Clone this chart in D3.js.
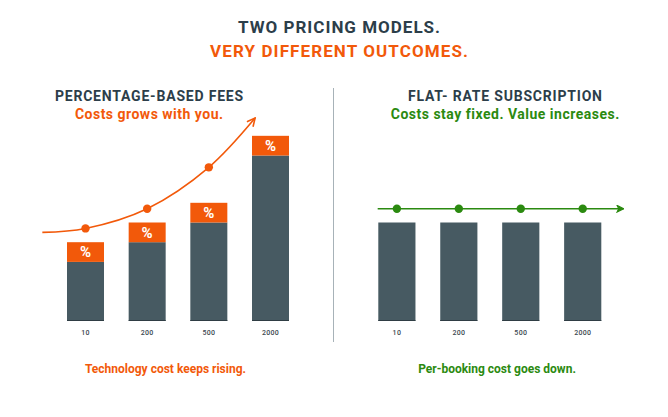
<!DOCTYPE html>
<html>
<head>
<meta charset="utf-8">
<script src="https://cdn.jsdelivr.net/npm/d3@7"></script>
<style>
  body { margin: 0; background: #fff; }
  svg text { font-family: Roboto, "Noto Sans", sans-serif; }
</style>
</head>
<body>
<div id="chart"></div>
<script>
/* CONSTANTS AND GLOBALS */
const width = 668,
  height = 417;

// booking volumes (x categories)
const categories = ["10", "200", "500", "2000"];

// left panel: platform cost + percentage fee on top
const pctBase = [30, 40, 50, 84];
const pctFee = [10, 10, 10, 10];
// trend curve through the fee tops (index along the bars, value)
const pctCurve = [
  { i: -0.7, v: 45 },
  { i: 0, v: 47 },
  { i: 1, v: 57 },
  { i: 2, v: 78 },
  { i: 2.75, v: 103 }
];
const pctDots = [0, 1, 2];

// right panel: flat subscription
const flatBase = [50, 50, 50, 50];
const flatLine = [
  { i: -0.31, v: 57 },
  { i: 3.66, v: 57 }
];
const flatDots = [0, 1, 2, 3];

const colors = {
  dark: "#2c3e4a",
  bar: "#475a62",
  orange: "#f2590a",
  green: "#2b8a10",
  tick: "#3b4850",
  divider: "#a7b2b8"
};

const svg = d3.select("#chart")
  .append("svg")
  .attr("width", width)
  .attr("height", height);

// helper for centred text; letter-spacing adds trailing space, so nudge by half
function label(parent, x, y, size, spacing, fill, txt) {
  return parent.append("text")
    .attr("x", x + spacing / 2).attr("y", y)
    .attr("text-anchor", "middle")
    .attr("font-size", size).attr("font-weight", 700)
    .attr("letter-spacing", spacing)
    .attr("fill", fill)
    .text(txt);
}

// + TITLES
label(svg, 339, 33, 17, 1, colors.dark, "TWO PRICING MODELS.");
label(svg, 339, 57, 17, 1.1, colors.orange, "VERY DIFFERENT OUTCOMES.");

// divider
svg.append("line")
  .attr("x1", 333.5).attr("x2", 333.5)
  .attr("y1", 88).attr("y2", 342)
  .attr("stroke", colors.divider)
  .attr("stroke-width", 1);

// + SCALES
const yScale = d3.scaleLinear()
  .domain([0, 100])
  .range([321, 124]);

function panel(opts) {
  const xBand = d3.scaleBand()
    .domain(categories)
    .range(opts.range)
    .paddingInner(0.4)
    .paddingOuter(0);

  // index -> bar centre, for the trend lines
  const xIdx = d3.scaleLinear()
    .domain([0, 1])
    .range([xBand(categories[0]) + xBand.bandwidth() / 2,
            xBand(categories[1]) + xBand.bandwidth() / 2]);

  const g = svg.append("g");

  // headings
  label(g, opts.cx, 101, 14, 0.8, colors.dark, opts.title);
  label(g, opts.cx, 118.5, 14, 0.5, opts.color, opts.subtitle);

  // bars
  g.selectAll("rect.base")
    .data(opts.base)
    .join("rect")
    .attr("class", "base")
    .attr("x", (d, i) => xBand(categories[i]))
    .attr("width", xBand.bandwidth())
    .attr("y", d => yScale(d))
    .attr("height", d => yScale(0) - yScale(d))
    .attr("fill", colors.bar);

  // bottom edge of bars
  g.selectAll("line.edge")
    .data(opts.base)
    .join("line")
    .attr("class", "edge")
    .attr("x1", (d, i) => xBand(categories[i]))
    .attr("x2", (d, i) => xBand(categories[i]) + xBand.bandwidth())
    .attr("y1", yScale(0) - 0.5)
    .attr("y2", yScale(0) - 0.5)
    .attr("stroke", "#2f3d44");

  if (opts.fee) {
    const fee = g.selectAll("g.fee")
      .data(opts.fee)
      .join("g")
      .attr("class", "fee");

    fee.append("rect")
      .attr("x", (d, i) => xBand(categories[i]))
      .attr("width", xBand.bandwidth())
      .attr("y", (d, i) => yScale(opts.base[i] + d))
      .attr("height", d => yScale(0) - yScale(d))
      .attr("fill", colors.orange);

    fee.append("text")
      .attr("x", (d, i) => xBand(categories[i]) + xBand.bandwidth() / 2)
      .attr("y", (d, i) => yScale(opts.base[i] + d / 2))
      .attr("dy", "0.36em")
      .attr("text-anchor", "middle")
      .attr("font-size", 15).attr("font-weight", 700)
      .attr("fill", "#fff")
      .text("%");
  }

  // x axis
  const xAxis = d3.axisBottom(xBand).tickSize(0).tickPadding(9);
  g.append("g")
    .attr("transform", `translate(0,${yScale(0)})`)
    .call(xAxis)
    .call(ax => ax.select(".domain").remove())
    .call(ax => ax.selectAll("text")
      .attr("font-size", 7)
      .attr("font-family", "Roboto, sans-serif")
      .attr("font-weight", 500)
      .attr("letter-spacing", 0.3)
      .attr("fill", colors.tick));

  // trend line with arrow
  const markerId = "arrow-" + opts.key;
  svg.append("defs").append("marker")
    .attr("id", markerId)
    .attr("viewBox", "0 0 10 10")
    .attr("refX", 9).attr("refY", 5)
    .attr("markerWidth", opts.arrowSize).attr("markerHeight", opts.arrowSize)
    .attr("markerUnits", "userSpaceOnUse")
    .attr("orient", "auto")
    .append("path")
    .attr("d", opts.arrowPath)
    .attr("fill", opts.arrowFill)
    .attr("stroke", opts.color)
    .attr("stroke-width", 1.6);

  const line = d3.line()
    .x(d => xIdx(d.i))
    .y(d => yScale(d.v))
    .curve(d3.curveCatmullRom.alpha(0.5));

  g.append("path")
    .datum(opts.line)
    .attr("d", line)
    .attr("fill", "none")
    .attr("stroke", opts.color)
    .attr("stroke-width", 1.6)
    .attr("marker-end", `url(#${markerId})`);

  const lineY = d3.scaleLinear()
    .domain(opts.line.map(d => d.i))
    .range(opts.line.map(d => d.v));

  g.selectAll("circle")
    .data(opts.dots)
    .join("circle")
    .attr("cx", d => xIdx(d))
    .attr("cy", d => yScale(lineY(d)))
    .attr("r", 4.2)
    .attr("fill", opts.color);

  // caption
  label(g, opts.captionX, 373, 12, 0, opts.color, opts.caption);
}

panel({
  key: "pct",
  range: [67, 289],
  cx: 149,
  title: "PERCENTAGE-BASED FEES",
  subtitle: "Costs grows with you.",
  color: colors.orange,
  base: pctBase,
  fee: pctFee,
  line: pctCurve,
  dots: pctDots,
  arrowSize: 10,
  arrowPath: "M1,1L9,5L1,9",
  arrowFill: "none",
  captionX: 165.5,
  caption: "Technology cost keeps rising."
});

panel({
  key: "flat",
  range: [378.3, 601.3],
  cx: 505,
  title: "FLAT- RATE SUBSCRIPTION",
  subtitle: "Costs stay fixed. Value increases.",
  color: colors.green,
  base: flatBase,
  fee: null,
  line: flatLine,
  dots: flatDots,
  arrowSize: 8,
  arrowPath: "M1,1L9,5L1,9L3,5Z",
  arrowFill: colors.green,
  captionX: 497,
  caption: "Per-booking cost goes down."
});
</script>
</body>
</html>
